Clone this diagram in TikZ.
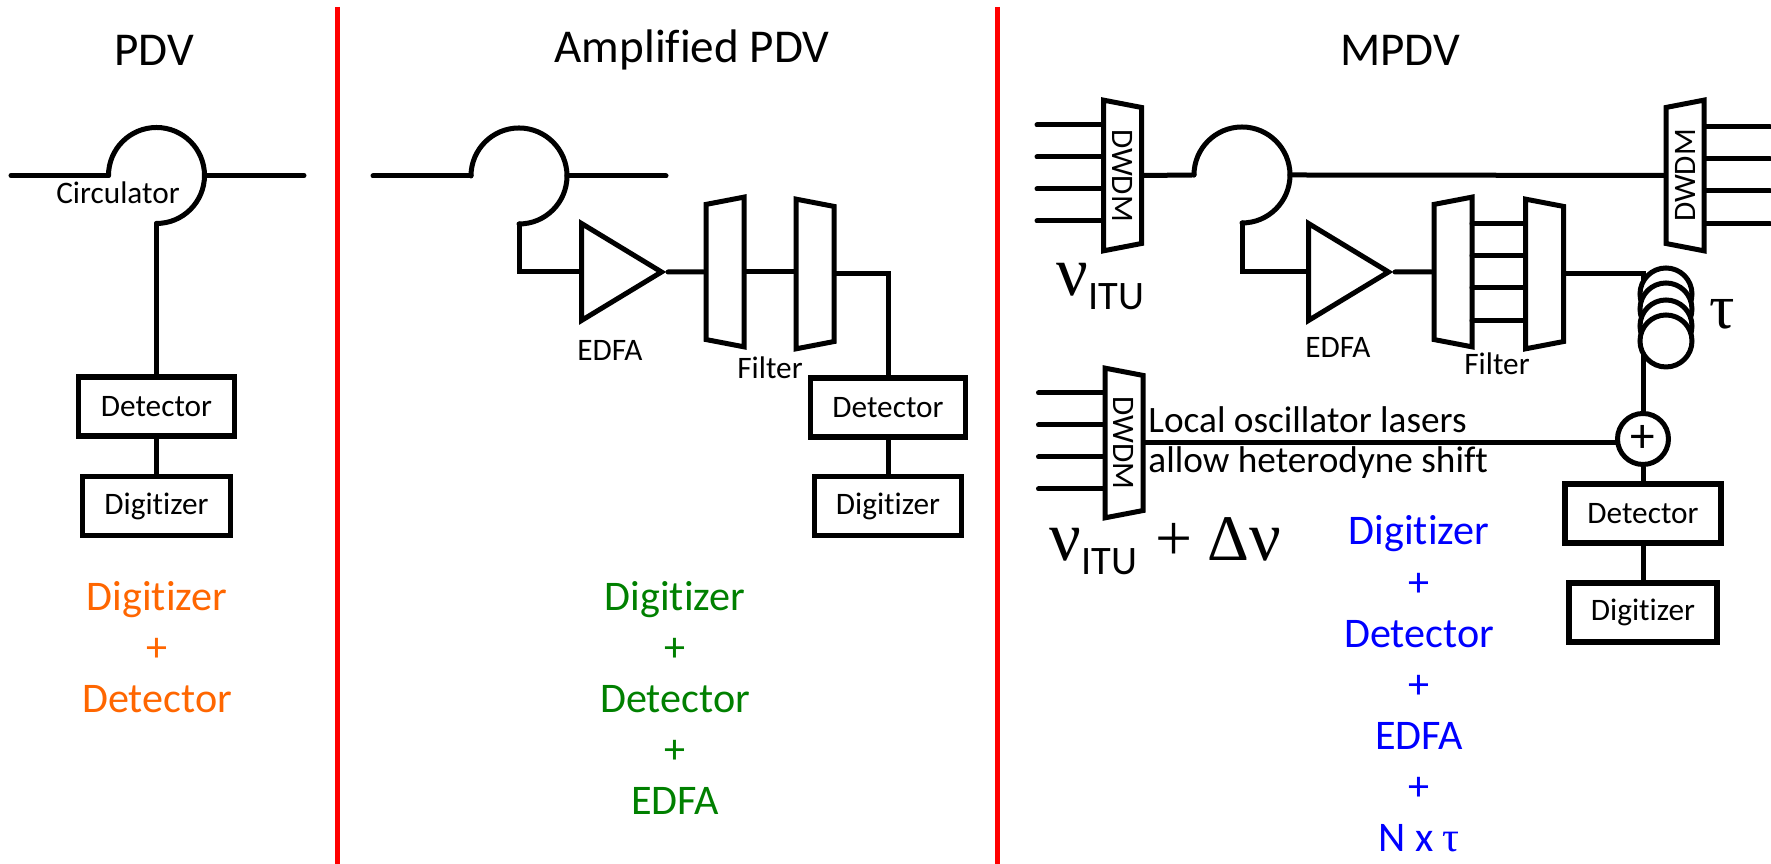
\documentclass[tikz,border=0pt]{standalone}
\usepackage{fontspec}
\setmainfont{Carlito}[Ligatures=NoCommon]
\newfontfamily\symfont{Liberation Serif}
\usetikzlibrary{shapes.geometric}
\definecolor{pdvred}{RGB}{255,0,0}
\definecolor{pdvorange}{RGB}{255,102,0}
\definecolor{pdvgreen}{RGB}{0,128,0}
\definecolor{pdvblue}{RGB}{0,0,255}
\tikzstyle{wire} = [line width=0.05cm, line cap=round]
\tikzstyle{divider} = [line width=0.05cm, color=pdvred]
\newcommand{\fsize}[1]{\fontsize{#1}{#1}\selectfont}
\newcommand{\nusym}{{\symfont\fsize{20}ν}}
\newcommand{\itusub}{{\fsize{11.5}\raisebox{-0.14cm}{ITU}}}

\begin{document}
\begin{tikzpicture}[
    every node/.style={font=\fsize{8.9}},
    box/.style={rectangle, draw, line width=0.055cm, fill=white, minimum height=0.59cm, align=center},
    mux/.style={trapezium, draw, line width=0.05cm, trapezium stretches=true, trapezium angle=76, minimum height=0.38cm, inner sep=0pt},
    edfa/.style={isosceles triangle, isosceles triangle stretches, draw, line width=0.05cm, minimum width=0.97cm, minimum height=0.80cm, inner sep=0pt, anchor=lower side},
    ring/.style={circle, draw, line width=0.05cm, inner sep=0pt, fill=white},
    title/.style={font=\fsize{13.4}},
    cost/.style={font=\fsize{12}, align=center},
    note/.style={font=\fsize{10.6}, anchor=west},
    symbol/.style={anchor=base west}
]
\useasboundingbox (0,0) rectangle (17.71,8.64);

% Dividers
\coordinate (divAtop) at (3.375,8.57);
\coordinate (divAbot) at (3.375,0);
\coordinate (divBtop) at (9.975,8.57);
\coordinate (divBbot) at (9.975,0);
\draw[divider] (divAtop) -- (divAbot);
\draw[divider] (divBtop) -- (divBbot);

% Titles
\node[title] (titleA) at (1.54,8.14) {PDV};
\node[title] (titleB) at (6.92,8.14) {Amplified PDV};
\node[title] (titleC) at (14.00,8.14) {MPDV};

% Circulators
\foreach \name/\x/\y in {circA/1.565/6.885, circB/5.19/6.88, circC/12.42/6.89} {
    \coordinate (\name) at (\x,\y);
    \draw[wire] (\name) ++(-0.48,0) coordinate (\name in) arc[start angle=180, end angle=-90, radius=0.48] coordinate (\name drop);
    \coordinate (\name out) at ([xshift=0.48cm]\name);
}

% PDV
\coordinate (inA) at (0.11,6.885);
\coordinate (outA) at (3.04,6.885);
\node[box, minimum width=1.56cm] (detA) at (1.565,4.575) {Detector};
\node[box, minimum width=1.48cm] (digA) at (1.565,3.58) {Digitizer};
\node (circLabel) at (1.18,6.71) {Circulator};
\node[cost, text=pdvorange] (costA) at (1.57,2.165) {Digitizer\\[2.55pt]+\\[2.55pt]Detector};
\draw[wire] (inA) -- (circAin);
\draw[wire] (circAout) -- (outA);
\draw[wire] (circAdrop) -- (detA.north);
\draw[wire] (detA) -- (digA);

% Amplified PDV
\coordinate (inB) at (3.73,6.88);
\coordinate (outB) at (6.66,6.88);
\node[edfa] (ampB) at (5.79,5.92) {\phantom{.}};
\node[mux, rotate=90, minimum width=1.50cm] (filtBa) at (7.25,5.92) {\phantom{DWDM}};
\node[mux, rotate=-90, minimum width=1.50cm] (filtBb) at (8.15,5.90) {\phantom{DWDM}};
\node[box, minimum width=1.55cm] (detB) at (8.88,4.565) {Detector};
\node[box, minimum width=1.47cm] (digB) at (8.88,3.58) {Digitizer};
\node (ampLabelB) at (6.10,5.14) {EDFA};
\node (filtLabelB) at (7.70,4.96) {Filter};
\node[cost, text=pdvgreen] (costB) at (6.75,1.66) {Digitizer\\[2.55pt]+\\[2.55pt]Detector\\[2.55pt]+\\[2.55pt]EDFA};
\draw[wire] (inB) -- (circBin);
\draw[wire] (circBout) -- (outB);
\draw[wire] (circBdrop) |- (ampB.lower side);
\draw[wire] (ampB.apex) -- (filtBa.north);
\draw[wire] (filtBa.south) -- (filtBa.south -| filtBb.south);
\draw[wire] (filtBb.north) -| (detB.north);
\draw[wire] (detB) -- (digB);

% MPDV
\node[mux, rotate=-90, minimum width=1.51cm] (dwdmC) at (11.225,6.885) {DWDM};
\node[mux, rotate=90, minimum width=1.51cm] (dwdmD) at (16.85,6.885) {DWDM};
\node[mux, rotate=-90, minimum width=1.50cm] (dwdmE) at (11.24,4.21) {DWDM};
\node[edfa] (ampC) at (13.06,5.92) {\phantom{.}};
\node[mux, rotate=90, minimum width=1.50cm] (filtCa) at (14.53,5.92) {\phantom{DWDM}};
\node[mux, rotate=-90, minimum width=1.50cm] (filtCb) at (15.445,5.90) {\phantom{DWDM}};
\node[ring, minimum size=0.51cm, font=\fsize{14}] (mix) at (16.43,4.25) {+};
\node[box, minimum width=1.56cm] (detC) at (16.43,3.505) {Detector};
\node[box, minimum width=1.48cm] (digC) at (16.43,2.515) {Digitizer};
\node (ampLabelC) at (13.38,5.17) {EDFA};
\node (filtLabelC) at (14.97,5.00) {Filter};
\node[note] (noteA) at (11.36,4.44) {Local oscillator lasers};
\node[note] (noteB) at (11.36,4.01) {allow heterodyne shift};
\node[font=\symfont\fsize{18}] (tau) at (17.22,5.50) {τ};
\node[symbol, inner sep=0pt] (nuA) at (10.56,5.68) {\nusym\itusub};
\node[symbol, inner sep=0pt] (nuB) at (10.49,3.03) {\nusym\itusub\hspace{0.18cm}{\symfont\fsize{18.7}+}\hspace{0.15cm}{\symfont\fsize{18.5}Δ}\nusym};
\node[cost, text=pdvblue] (costC) at (14.19,1.80) {Digitizer\\[2.55pt]+\\[2.55pt]Detector\\[2.55pt]+\\[2.55pt]EDFA\\[2.55pt]+\\[2.55pt]N x {\symfont τ}};

\draw[wire] (dwdmC.north) -- (circCin);
\draw[wire] (circCout) -- (dwdmD.north);
\draw[wire] (circCdrop) |- (ampC.lower side);
\draw[wire] (ampC.apex) -- (filtCa.north);
\draw[wire] (filtCb.north) -| (mix.north);
\draw[wire] (dwdmE.north) -- (dwdmE.north -| mix.west);
\draw[wire] (mix.south) -- (detC.north);
\draw[wire] (detC) -- (digC);

% Fibre stubs and filter arms
\foreach \i/\y in {1/7.39, 2/7.07, 3/6.75, 4/6.43} {
    \coordinate (stubC\i) at (10.37,\y);
    \draw[wire] (stubC\i) -- (stubC\i -| dwdmC.south);
}
\foreach \i/\y in {1/7.37, 2/7.05, 3/6.73, 4/6.40} {
    \coordinate (stubD\i) at (17.70,\y);
    \draw[wire] (stubD\i) -- (stubD\i -| dwdmD.south);
}
\foreach \i/\y in {1/4.71, 2/4.39, 3/4.07, 4/3.75} {
    \coordinate (stubE\i) at (10.385,\y);
    \draw[wire] (stubE\i) -- (stubE\i -| dwdmE.south);
}
\foreach \i/\y in {1/6.40, 2/6.08, 3/5.76, 4/5.43} {
    \coordinate (armC\i) at (14.72,\y);
    \draw[wire] (armC\i) -- (armC\i -| filtCb.south);
}

% Delay coil
\foreach \i/\y in {1/5.70, 2/5.55, 3/5.38, 4/5.23} {
    \node[ring, minimum size=0.52cm] (coil\i) at (16.66,\y) {};
}

\end{tikzpicture}
\end{document}
